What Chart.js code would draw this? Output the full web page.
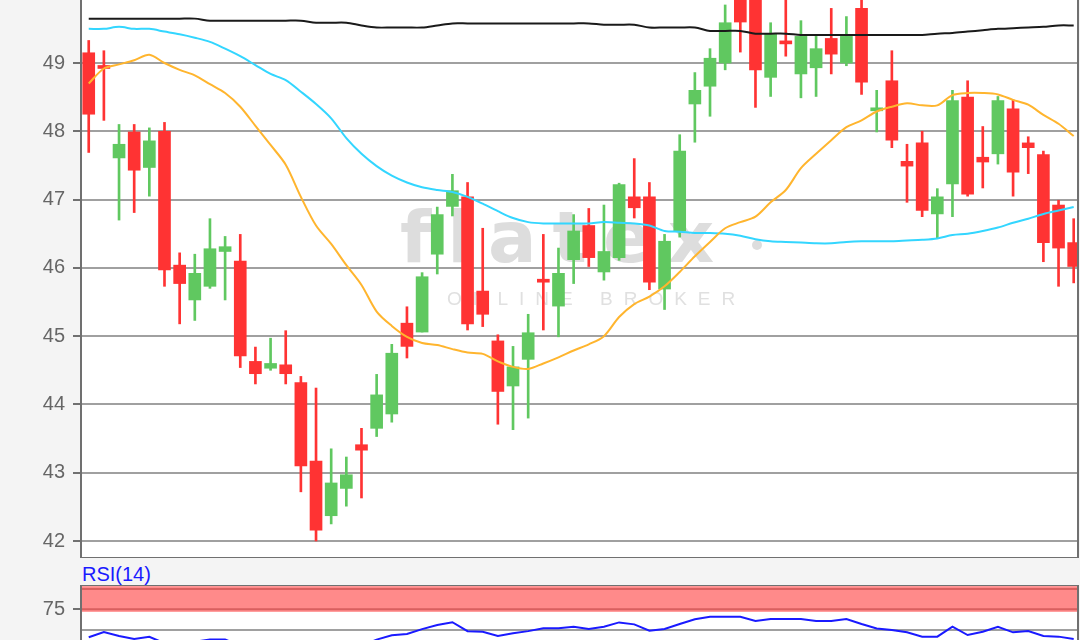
<!DOCTYPE html>
<html>
<head>
<meta charset="utf-8">
<script src="https://cdn.jsdelivr.net/npm/chart.js@4.4.1/dist/chart.umd.min.js"></script>
<style>
    html, body { margin: 0; padding: 0; }
    body {
        width: 1080px; height: 640px; overflow: hidden; position: relative;
        background: #f4f4f4; font-family: "Liberation Sans", Arial, sans-serif;
    }
    #price-chart { position: absolute; left: 0; top: -50px; }
    #rsi-chart { position: absolute; left: 0; top: 585px; }
    #rsi-label {
        position: absolute; left: 82px; top: 563px;
        font-size: 20px; line-height: 23px; color: #1a1aff;
    }
</style>
</head>
<body>
<canvas id="price-chart" width="1080" height="608"></canvas>
<div id="rsi-label">RSI(14)</div>
<canvas id="rsi-chart" width="1080" height="100"></canvas>
<script>
const opens = [49.15, 48.95, 47.61, 47.99, 47.47, 48.00, 46.04, 45.53, 45.73, 46.24,
    46.10, 44.63, 44.53, 44.58, 44.32, 43.17, 42.37, 42.77, 43.41, 43.65,
    43.86, 45.19, 45.06, 46.20, 46.90, 47.04, 45.66, 44.93, 44.27, 44.66,
    45.82, 45.44, 46.12, 46.62, 45.94, 46.15, 47.04, 47.04, 45.69, 46.54,
    48.40, 48.66, 49.00, 50.05, 50.10, 48.79, 49.31, 48.84, 48.93, 49.36,
    49.00, 49.80, 48.30, 48.74, 47.56, 47.83, 46.79, 47.23, 48.50, 47.62,
    47.67, 48.33, 47.83, 47.66, 46.92, 46.37];
const highs = [49.33, 49.18, 48.10, 48.10, 48.05, 48.13, 46.22, 46.20, 46.72, 46.46,
    46.49, 44.84, 44.97, 45.08, 44.41, 44.24, 43.35, 43.23, 43.65, 44.44,
    44.88, 45.43, 45.93, 46.89, 47.37, 47.25, 46.58, 45.02, 44.85, 45.32,
    46.49, 46.29, 46.78, 46.87, 46.92, 47.24, 47.60, 47.25, 46.49, 47.95,
    48.86, 49.21, 49.85, 50.30, 50.40, 49.59, 50.00, 49.62, 49.39, 49.80,
    49.68, 50.00, 48.60, 49.18, 47.81, 48.00, 47.16, 48.60, 48.74, 48.07,
    48.51, 48.46, 47.92, 47.71, 46.99, 46.72];
const lows = [47.69, 48.16, 46.70, 46.81, 47.05, 45.73, 45.18, 45.23, 45.70, 45.53,
    44.54, 44.30, 44.50, 44.30, 42.72, 42.00, 42.25, 42.51, 42.63, 43.53,
    43.74, 44.68, 45.06, 45.91, 46.76, 45.09, 45.14, 43.71, 43.63, 43.80,
    45.09, 44.99, 45.77, 46.02, 45.82, 46.11, 46.73, 45.68, 45.39, 46.45,
    47.84, 48.22, 48.90, 49.16, 48.35, 48.51, 49.10, 48.49, 48.51, 48.84,
    48.96, 48.54, 47.99, 47.76, 46.96, 46.75, 46.43, 46.75, 47.05, 47.17,
    47.52, 47.05, 47.38, 46.09, 45.73, 45.78];
const closes = [48.25, 48.92, 47.81, 47.43, 47.86, 45.97, 45.77, 45.92, 46.28, 46.31,
    44.71, 44.45, 44.60, 44.45, 43.10, 42.16, 42.85, 42.97, 43.33, 44.14,
    44.75, 44.85, 45.87, 46.78, 47.13, 45.18, 45.32, 44.19, 44.55, 45.05,
    45.79, 45.92, 46.54, 46.15, 46.24, 47.22, 46.88, 45.79, 46.39, 47.71,
    48.60, 49.07, 49.59, 49.60, 48.90, 49.42, 49.28, 49.39, 49.21, 49.13,
    49.39, 48.72, 48.33, 47.87, 47.49, 46.84, 47.04, 48.45, 47.08, 47.55,
    48.45, 47.40, 47.76, 46.37, 46.29, 46.02];

// moving averages (orange = short, cyan = medium, black = long)
const maShort = [48.70, 48.92, 48.98, 49.04, 49.12, 49.00, 48.90, 48.82, 48.69, 48.56,
    48.36, 48.08, 47.80, 47.51, 47.04, 46.62, 46.35, 46.04, 45.75, 45.36,
    45.15, 44.99, 44.90, 44.87, 44.81, 44.76, 44.74, 44.63, 44.55, 44.52,
    44.60, 44.69, 44.79, 44.88, 45.00, 45.28, 45.47, 45.58, 45.73, 45.94,
    46.17, 46.38, 46.58, 46.67, 46.75, 46.96, 47.14, 47.46, 47.67, 47.87,
    48.06, 48.16, 48.29, 48.36, 48.41, 48.38, 48.38, 48.53, 48.56, 48.56,
    48.54, 48.46, 48.39, 48.24, 48.11, 47.93];
const maMid = [49.50, 49.50, 49.53, 49.50, 49.50, 49.46, 49.42, 49.37, 49.31, 49.21,
    49.10, 48.97, 48.84, 48.75, 48.58, 48.40, 48.19, 47.90, 47.67, 47.49,
    47.35, 47.25, 47.18, 47.14, 47.11, 47.04, 46.94, 46.83, 46.73, 46.67,
    46.65, 46.65, 46.65, 46.65, 46.67, 46.66, 46.65, 46.62, 46.54, 46.53,
    46.51, 46.51, 46.50, 46.47, 46.42, 46.39, 46.38, 46.37, 46.36, 46.36,
    46.38, 46.39, 46.39, 46.39, 46.40, 46.41, 46.43, 46.48, 46.50, 46.54,
    46.59, 46.66, 46.72, 46.79, 46.84, 46.89];
const maLong = [49.65, 49.65, 49.65, 49.65, 49.65, 49.65, 49.65, 49.65, 49.62, 49.62,
    49.62, 49.62, 49.62, 49.62, 49.62, 49.59, 49.59, 49.59, 49.55, 49.52,
    49.52, 49.52, 49.52, 49.55, 49.58, 49.58, 49.58, 49.58, 49.58, 49.58,
    49.58, 49.58, 49.58, 49.58, 49.56, 49.56, 49.56, 49.52, 49.52, 49.52,
    49.52, 49.47, 49.47, 49.47, 49.43, 49.43, 49.43, 49.41, 49.41, 49.41,
    49.41, 49.41, 49.41, 49.41, 49.41, 49.41, 49.43, 49.44, 49.46, 49.48,
    49.50, 49.51, 49.52, 49.53, 49.55, 49.55];

const rsiValues = [40.4, 47.0, 42.0, 38.3, 41.0, 33.0, 31.0, 35.0, 37.5, 37.5,
    30.0, 28.0, 29.0, 28.0, 23.0, 20.0, 24.0, 27.0, 30.0, 37.5,
    43.0, 44.5, 50.5, 55.5, 59.0, 48.0, 47.3, 42.0, 45.3, 48.0,
    51.5, 51.5, 53.5, 50.6, 53.5, 58.8, 56.4, 48.6, 50.6, 56.8,
    62.6, 65.8, 65.8, 65.8, 60.5, 63.0, 63.0, 63.0, 60.5, 60.5,
    63.0, 56.8, 51.4, 49.4, 46.5, 41.2, 41.2, 53.5, 43.2, 47.3,
    53.5, 46.5, 48.1, 42.0, 41.2, 38.3];

const priceTicks = [42, 43, 44, 45, 46, 47, 48, 49, 50];
const rsiTicks = [25, 50, 75];
const rsiBand = [75, 100];
const watermarkTitle = "flatex";
const watermarkSub = "ONLINE BROKER";

const UP = '#60c860';
const DOWN = '#ff3333';
const FRAME = '#707070';
const GRID = '#a0a0a0';

const candleColors = opens.map((o, i) => closes[i] >= o ? UP : DOWN);
const toPoints = arr => arr.map((v, i) => ({ x: i + 1, y: v }));

const xScale = { type: 'linear', min: 0.49, max: 66.35, display: false, offset: false };

const areaBackground = {
    id: 'areaBackground',
    beforeDraw(chart) {
        const { ctx, chartArea: a } = chart;
        ctx.save();
        ctx.fillStyle = '#ffffff';
        ctx.fillRect(a.left, a.top, a.width, a.height);
        ctx.restore();
    }
};

const frame = {
    id: 'frame',
    afterDraw(chart) {
        const { ctx, chartArea: a } = chart;
        ctx.save();
        ctx.strokeStyle = FRAME;
        ctx.lineWidth = 2;
        ctx.strokeRect(a.left, a.top, a.right - a.left - 1, a.height);
        ctx.restore();
    }
};

const watermark = {
    id: 'watermark',
    beforeDatasetsDraw(chart) {
        const { ctx, chartArea: a } = chart;
        ctx.save();
        ctx.fillStyle = '#dddddd';
        ctx.font = 'bold 72px "DejaVu Sans"';
        ctx.letterSpacing = '16px';
        ctx.textBaseline = 'alphabetic';
        ctx.fillText(watermarkTitle, a.left + 319, a.top + 312);
        ctx.beginPath();
        ctx.arc(a.left + 676, a.top + 295, 5, 0, Math.PI * 2);
        ctx.fill();
        ctx.fillStyle = '#e0e0e0';
        ctx.font = '19px "Liberation Sans"';
        ctx.letterSpacing = '11px';
        ctx.fillText(watermarkSub, a.left + 366, a.top + 355);
        ctx.restore();
    }
};

const yAxisFit = width => scale => {
    scale.width = width;
    scale.paddingTop = 0;
    scale.paddingBottom = 0;
};

new Chart(document.getElementById('price-chart'), {
    type: 'bar',
    data: {
        datasets: [{
            type: 'line', data: toPoints(maShort), borderColor: '#ffb52e',
            borderWidth: 2, pointRadius: 0, tension: 0.3, order: 0
        }, {
            type: 'line', data: toPoints(maMid), borderColor: '#33d6ff',
            borderWidth: 2, pointRadius: 0, tension: 0.3, order: 0
        }, {
            type: 'line', data: toPoints(maLong), borderColor: '#1a1a1a',
            borderWidth: 2, pointRadius: 0, tension: 0.3, order: 0
        }, {
            data: opens.map((o, i) => ({ x: i + 1, y: [o, closes[i]] })),
            backgroundColor: candleColors, barThickness: 12, minBarLength: 3,
            grouped: false, borderWidth: 0, order: 1
        }, {
            data: lows.map((l, i) => ({ x: i + 1, y: [l, highs[i]] })),
            backgroundColor: candleColors, barThickness: 2,
            grouped: false, borderWidth: 0, order: 2
        }]
    },
    options: {
        responsive: false,
        devicePixelRatio: 1,
        animation: false,
        layout: { padding: { left: 0, right: 1, top: 0, bottom: 0 } },
        plugins: { legend: { display: false }, tooltip: { enabled: false } },
        scales: {
            x: xScale,
            y: {
                min: 41.751, max: 50.655,
                afterBuildTicks: s => { s.ticks = priceTicks.map(v => ({ value: v })); },
                afterFit: yAxisFit(81),
                border: { display: false },
                grid: { color: GRID, lineWidth: 2, tickLength: 8, tickColor: FRAME, tickWidth: 2 },
                ticks: { color: '#666', padding: 8, font: { size: 20, family: 'Liberation Sans' } }
            }
        }
    },
    plugins: [areaBackground, watermark, frame]
});

const rsiBandPlugin = {
    id: 'rsiBand',
    beforeDatasetsDraw(chart) {
        const { ctx, chartArea: a, scales: { y } } = chart;
        const top = y.getPixelForValue(rsiBand[1]);
        const bottom = y.getPixelForValue(rsiBand[0]);
        ctx.save();
        ctx.fillStyle = '#ff8a8a';
        ctx.fillRect(a.left, top - 3, a.width, bottom - top + 5.5);
        ctx.strokeStyle = '#d95f5f';
        ctx.lineWidth = 2;
        ctx.beginPath();
        ctx.moveTo(a.left, top); ctx.lineTo(a.right, top);
        ctx.moveTo(a.left, bottom); ctx.lineTo(a.right, bottom);
        ctx.stroke();
        ctx.restore();
    }
};

new Chart(document.getElementById('rsi-chart'), {
    type: 'line',
    data: {
        datasets: [{
            data: toPoints(rsiValues), borderColor: '#1a1aff',
            borderWidth: 2, pointRadius: 0, tension: 0
        }]
    },
    options: {
        responsive: false,
        devicePixelRatio: 1,
        animation: false,
        layout: { padding: { left: 0, right: 1, top: 0, bottom: 0 } },
        plugins: { legend: { display: false }, tooltip: { enabled: false } },
        scales: {
            x: xScale,
            y: {
                min: -18.66, max: 105.1,
                afterBuildTicks: s => { s.ticks = rsiTicks.map(v => ({ value: v })); },
                afterFit: yAxisFit(81),
                border: { display: false },
                grid: {
                    color: GRID, lineWidth: 2, tickLength: 8, tickWidth: 2,
                    tickColor: c => c.tick && c.tick.value === 50 ? 'rgba(0,0,0,0)' : FRAME
                },
                ticks: {
                    color: '#666', padding: 8, font: { size: 20, family: 'Liberation Sans' },
                    callback: v => v === 50 ? '' : v
                }
            }
        }
    },
    plugins: [areaBackground, rsiBandPlugin, frame]
});
</script>
</body>
</html>
